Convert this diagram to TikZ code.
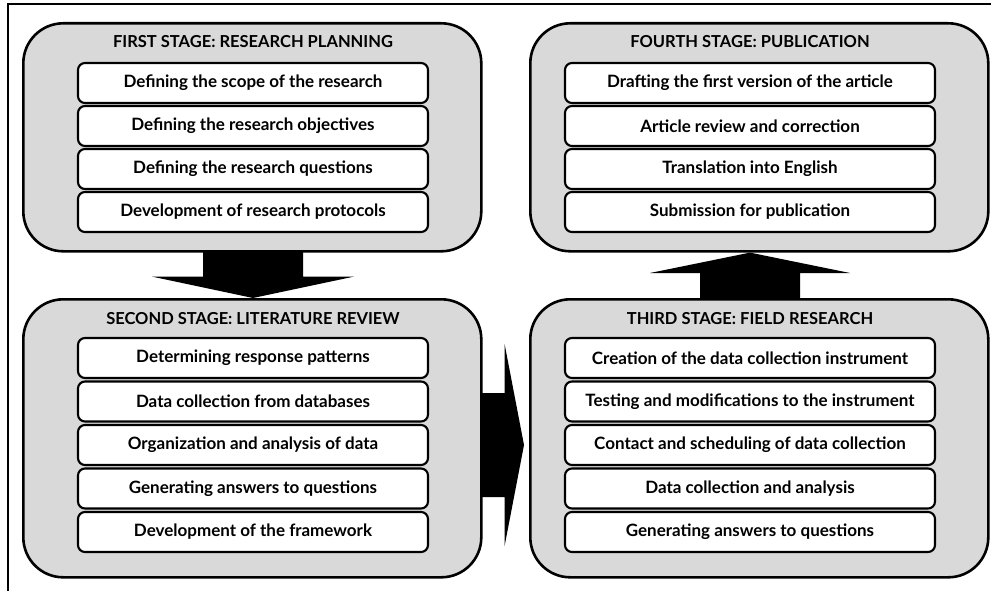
\documentclass[tikz,border=0pt]{standalone}
\usepackage{fontspec}
\setmainfont{Lato}
\usetikzlibrary{calc}
\begin{document}
\begin{tikzpicture}[x=1pt,y=-1pt,
  stage/.style={draw=black, line width=2.6pt, fill=black!15, rounded corners=40pt,
    minimum width=458pt, inner sep=0pt, anchor=north west},
  head/.style={font=\bfseries\fontsize{16.5}{18}\selectfont, inner sep=0pt},
  item/.style={draw=black, line width=2.1pt, fill=white, rounded corners=7pt,
    minimum height=40pt, inner sep=0pt, font=\bfseries\fontsize{17}{19}\selectfont},
  litem/.style={item, minimum width=350pt},
  ritem/.style={item, minimum width=370pt},
  blockarrow/.style={fill=black}
]
\useasboundingbox (0,0) rectangle (991,591);
% frame
\coordinate (fbl) at (8,591);
\coordinate (ftl) at (8,4);
\coordinate (ftr) at (991,4);
\draw[line width=2pt] (fbl) -- (ftl) -- (ftr);

% stage boxes
\node[stage, minimum height=228pt] (s1) at (22,22) {};
\node[stage, minimum height=278pt] (s2) at (22,298) {};
\node[stage, minimum height=278pt] (s3) at (529,298) {};
\node[stage, minimum height=228pt] (s4) at (529,22) {};

% headers
\node[head] (h1) at (253,42) {FIRST STAGE: RESEARCH PLANNING};
\node[head] (h2) at (253,319) {SECOND STAGE: LITERATURE REVIEW};
\node[head] (h3) at (750,319) {THIRD STAGE: FIELD RESEARCH};
\node[head] (h4) at (750,42) {FOURTH STAGE: PUBLICATION};

% first stage
\node[litem] (a1) at (253,83) {Defining the scope of the research};
\node[litem] (a2) at (253,126) {Defining the research objectives};
\node[litem] (a3) at (253,169) {Defining the research questions};
\node[litem] (a4) at (253,212) {Development of research protocols};

% second stage
\node[litem] (b1) at (253,358) {Determining response patterns};
\node[litem] (b2) at (253,401.5) {Data collection from databases};
\node[litem] (b3) at (253,445) {Organization and analysis of data};
\node[litem] (b4) at (253,488.5) {Generating answers to questions};
\node[litem] (b5) at (253,532) {Development of the framework};

% third stage
\node[ritem] (c1) at (750,358) {Creation of the data collection instrument};
\node[ritem] (c2) at (750,401.5) {Testing and modifications to the instrument};
\node[ritem] (c3) at (750,445) {Contact and scheduling of data collection};
\node[ritem] (c4) at (750,488.5) {Data collection and analysis};
\node[ritem] (c5) at (750,532) {Generating answers to questions};

% fourth stage
\node[ritem] (d1) at (750,83) {Drafting the first version of the article};
\node[ritem] (d2) at (750,126) {Article review and correction};
\node[ritem] (d3) at (750,169) {Translation into English};
\node[ritem] (d4) at (750,212) {Submission for publication};

% arrow 1 -> 2 (down)
\coordinate (dA) at (a4.south |- s1.south);
\coordinate (dB) at (b1.north |- s2.north);
\fill[blockarrow] ($(dA)+(-50,-1)$) -- ($(dA)+(50,-1)$) -- ($(dA)+(50,24)$) -- ($(dA)+(101,24)$)
  -- (dB) -- ($(dA)+(-101,24)$) -- ($(dA)+(-50,24)$) -- cycle;

% arrow 2 -> 3 (right)
\coordinate (rA) at (s2.east |- b3.center);
\coordinate (rB) at (s3.west |- b3.center);
\fill[blockarrow] ($(rA)+(-1,-52)$) -- ($(rA)+(22,-52)$) -- ($(rA)+(22,-101)$)
  -- ($(rB)+(-5,0)$) -- ($(rA)+(22,101)$) -- ($(rA)+(22,52)$) -- ($(rA)+(-1,52)$) -- cycle;

% arrow 3 -> 4 (up)
\coordinate (uA) at (c1.north |- s3.north);
\coordinate (uB) at (d4.south |- s4.south);
\fill[blockarrow] ($(uA)+(-50,1)$) -- ($(uA)+(50,1)$) -- ($(uA)+(50,-25)$) -- ($(uA)+(100,-25)$)
  -- (uB) -- ($(uA)+(-100,-25)$) -- ($(uA)+(-50,-25)$) -- cycle;
\end{tikzpicture}
\end{document}
